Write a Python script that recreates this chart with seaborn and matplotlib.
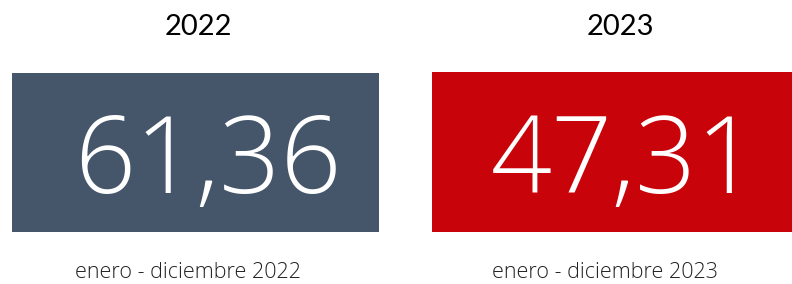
import numpy as np
import pandas as pd
import matplotlib
matplotlib.use("Agg")
import matplotlib.pyplot as plt
import seaborn as sns
from matplotlib.colors import ListedColormap

years = ["2022", "2023"]
values = [61.36, 47.31]
periods = ["enero - diciembre 2022", "enero - diciembre 2023"]
colors = ["#45566b", "#c8030a"]

sns.set_theme(style="white")
plt.rcParams["font.family"] = ["Lato", "DejaVu Sans"]

fig = plt.figure(figsize=(7.92, 2.84), dpi=100)

# box positions in figure fractions (left, bottom, width, height)
boxes = [[12 / 792, 52 / 284, 367 / 792, 159 / 284],
         [432 / 792, 52 / 284, 360 / 792, 160 / 284]]
title_x = [198 / 792, 620 / 792]
foot_x = [188 / 792, 605 / 792]

for i in range(len(years)):
    ax = fig.add_axes(boxes[i])
    sns.heatmap(np.array([[values[i]]]), cmap=ListedColormap([colors[i]]),
                cbar=False, ax=ax, xticklabels=False, yticklabels=False)
    lab = f"{values[i]:.2f}".replace(".", ",")
    ax.text(0.535, 0.42, lab, transform=ax.transAxes, ha="center", va="center",
            color="white", fontsize=77, fontweight=300, family="Open Sans")
    fig.text(title_x[i], 1 - 27 / 284, years[i], ha="center", va="center",
             fontsize=21, color="black")
    fig.text(foot_x[i], 1 - 272 / 284, periods[i], ha="center", va="center",
             fontsize=15.5, color="#222222", fontweight=300, family="Open Sans")

fig.savefig("out.png", dpi=100)
